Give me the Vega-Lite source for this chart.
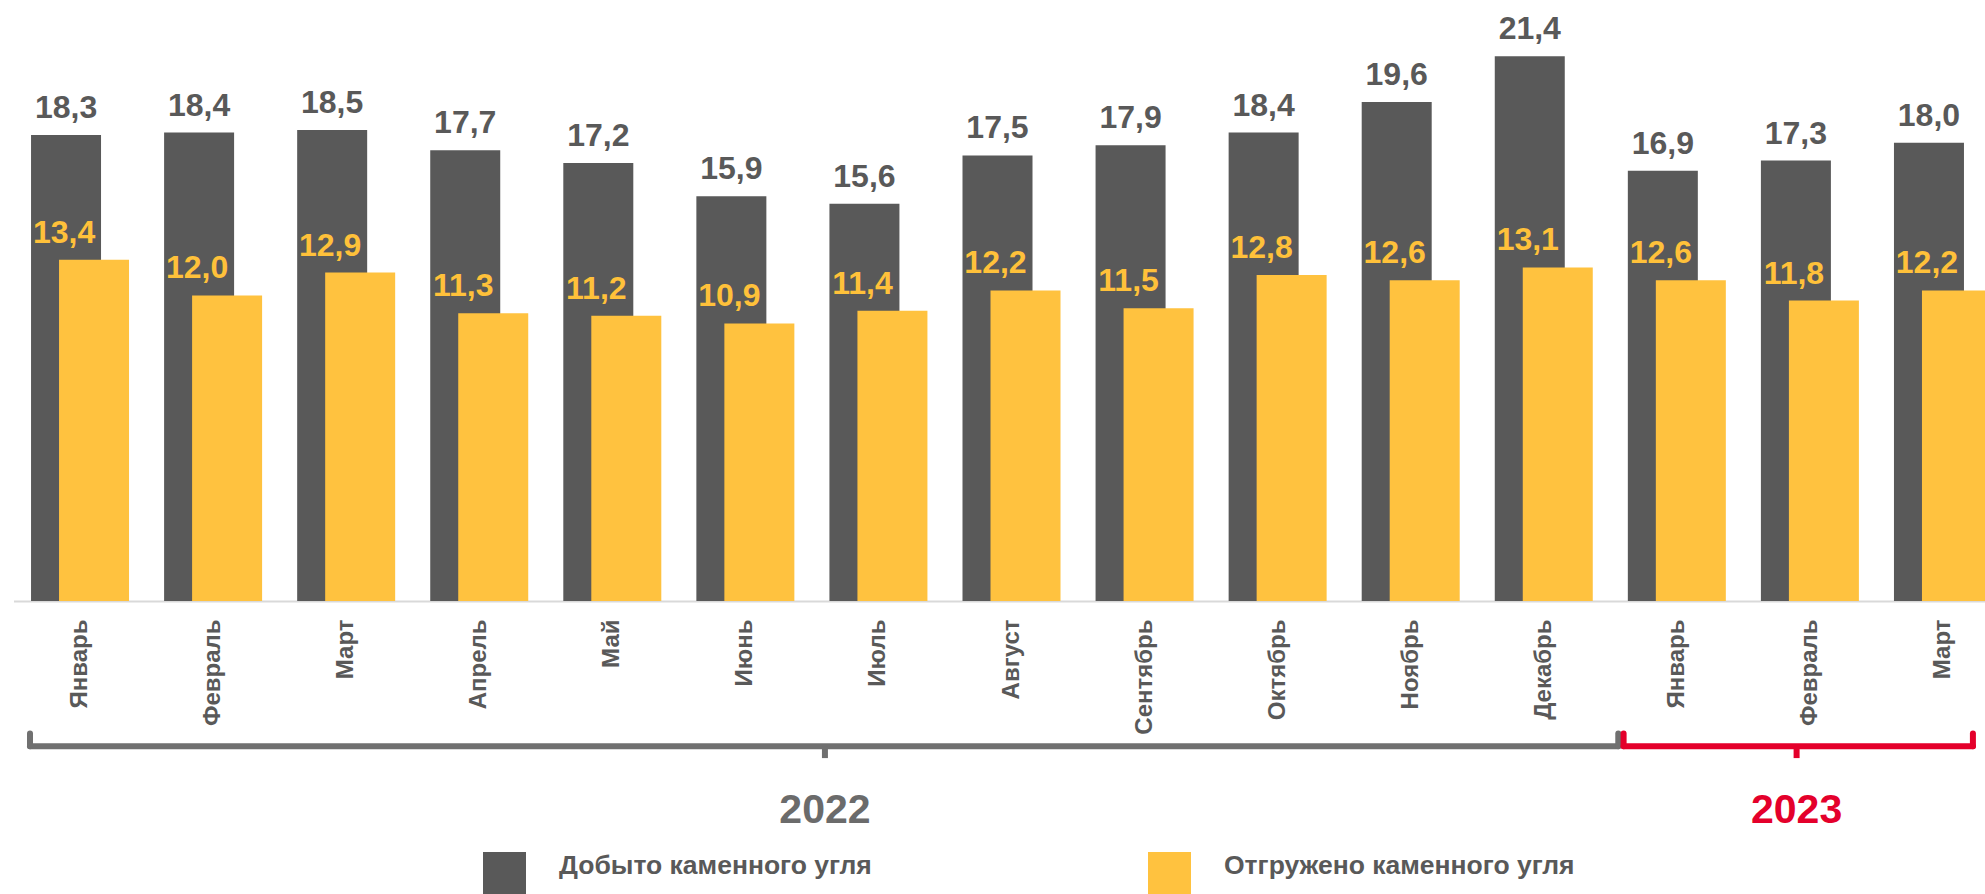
{
  "$schema": "https://vega.github.io/schema/vega-lite/v6.json",
  "width": 1971.5,
  "height": 587,
  "autosize": {"type": "none"},
  "padding": {"left": 13.5, "top": 14, "right": 0, "bottom": 293},
  "background": "white",
  "config": {
    "locale": {"number": {"decimal": ",", "thousands": " ", "grouping": [3], "currency": ["", ""]}},
    "view": {"stroke": null},
    "font": "Liberation Sans"
  },
  "datasets": {
    "coal": [
      {"month": "Январь 2022", "series": "Добыто каменного угля", "value": 18.3},
      {"month": "Февраль 2022", "series": "Добыто каменного угля", "value": 18.4},
      {"month": "Март 2022", "series": "Добыто каменного угля", "value": 18.5},
      {"month": "Апрель 2022", "series": "Добыто каменного угля", "value": 17.7},
      {"month": "Май 2022", "series": "Добыто каменного угля", "value": 17.2},
      {"month": "Июнь 2022", "series": "Добыто каменного угля", "value": 15.9},
      {"month": "Июль 2022", "series": "Добыто каменного угля", "value": 15.6},
      {"month": "Август 2022", "series": "Добыто каменного угля", "value": 17.5},
      {"month": "Сентябрь 2022", "series": "Добыто каменного угля", "value": 17.9},
      {"month": "Октябрь 2022", "series": "Добыто каменного угля", "value": 18.4},
      {"month": "Ноябрь 2022", "series": "Добыто каменного угля", "value": 19.6},
      {"month": "Декабрь 2022", "series": "Добыто каменного угля", "value": 21.4},
      {"month": "Январь 2023", "series": "Добыто каменного угля", "value": 16.9},
      {"month": "Февраль 2023", "series": "Добыто каменного угля", "value": 17.3},
      {"month": "Март 2023", "series": "Добыто каменного угля", "value": 18.0},
      {"month": "Январь 2022", "series": "Отгружено каменного угля", "value": 13.4},
      {"month": "Февраль 2022", "series": "Отгружено каменного угля", "value": 12.0},
      {"month": "Март 2022", "series": "Отгружено каменного угля", "value": 12.9},
      {"month": "Апрель 2022", "series": "Отгружено каменного угля", "value": 11.3},
      {"month": "Май 2022", "series": "Отгружено каменного угля", "value": 11.2},
      {"month": "Июнь 2022", "series": "Отгружено каменного угля", "value": 10.9},
      {"month": "Июль 2022", "series": "Отгружено каменного угля", "value": 11.4},
      {"month": "Август 2022", "series": "Отгружено каменного угля", "value": 12.2},
      {"month": "Сентябрь 2022", "series": "Отгружено каменного угля", "value": 11.5},
      {"month": "Октябрь 2022", "series": "Отгружено каменного угля", "value": 12.8},
      {"month": "Ноябрь 2022", "series": "Отгружено каменного угля", "value": 12.6},
      {"month": "Декабрь 2022", "series": "Отгружено каменного угля", "value": 13.1},
      {"month": "Январь 2023", "series": "Отгружено каменного угля", "value": 12.6},
      {"month": "Февраль 2023", "series": "Отгружено каменного угля", "value": 11.8},
      {"month": "Март 2023", "series": "Отгружено каменного угля", "value": 12.2}
    ],
    "brackets": [
      {"year": "2022", "from": "Январь 2022", "mid": "Июль 2022", "to": "Декабрь 2022"},
      {"year": "2023", "from": "Январь 2023", "mid": "Февраль 2023", "to": "Март 2023"}
    ]
  },
  "data": {"name": "coal"},
  "layer": [
    {
      "transform": [{"filter": "datum.series === 'Добыто каменного угля'"}],
      "mark": {"type": "bar", "width": 70, "xOffset": -14},
      "encoding": {
        "x": {
          "field": "month", "type": "nominal", "title": null,
          "scale": {
            "domain": ["Январь 2022", "Февраль 2022", "Март 2022", "Апрель 2022", "Май 2022", "Июнь 2022", "Июль 2022", "Август 2022", "Сентябрь 2022", "Октябрь 2022", "Ноябрь 2022", "Декабрь 2022", "Январь 2023", "Февраль 2023", "Март 2023"],
            "range": [0, 1996], "paddingInner": 0, "paddingOuter": 0
          },
          "axis": {
            "labelExpr": "split(datum.label, ' ')[0]",
            "labelAngle": -90, "labelFont": "Liberation Sans", "labelFontSize": 24, "labelFontWeight": "bold",
            "labelColor": "#595959", "labelPadding": 18, "ticks": false,
            "domainColor": "#D9D9D9", "domainWidth": 2, "grid": false
          }
        },
        "y": {"field": "value", "type": "quantitative", "scale": {"domain": [0, 23.055], "nice": false}, "axis": null},
        "color": {
          "field": "series", "type": "nominal",
          "scale": {"domain": ["Добыто каменного угля", "Отгружено каменного угля"], "range": ["#595959", "#FFC23F"]},
          "legend": {
            "orient": "none", "legendX": 469.5, "legendY": 838, "direction": "horizontal", "title": null,
            "symbolType": "square", "symbolSize": 1849, "symbolStrokeWidth": 0,
            "labelFont": "Liberation Sans", "labelFontSize": 26.5, "labelFontWeight": "bold", "labelColor": "#595959",
            "labelOffset": 33, "columnPadding": 276, "labelBaseline": "alphabetic", "padding": 0, "labelLimit": 0
          }
        }
      }
    },
    {
      "transform": [{"filter": "datum.series === 'Отгружено каменного угля'"}],
      "mark": {"type": "bar", "width": 70, "xOffset": 14},
      "encoding": {
        "x": {"field": "month", "type": "nominal", "title": null},
        "y": {"field": "value", "type": "quantitative"},
        "color": {"field": "series", "type": "nominal"}
      }
    },
    {
      "transform": [{"filter": "datum.series === 'Добыто каменного угля'"}],
      "mark": {"type": "text", "xOffset": -14, "dy": -17, "baseline": "alphabetic", "align": "center", "fontSize": 32, "fontWeight": "bold", "font": "Liberation Sans", "color": "#595959"},
      "encoding": {
        "x": {"field": "month", "type": "nominal", "title": null},
        "y": {"field": "value", "type": "quantitative"},
        "text": {"field": "value", "type": "quantitative", "format": ".1f"}
      }
    },
    {
      "transform": [{"filter": "datum.series === 'Отгружено каменного угля'"}],
      "mark": {"type": "text", "xOffset": -16, "dy": -17, "baseline": "alphabetic", "align": "center", "fontSize": 32, "fontWeight": "bold", "font": "Liberation Sans", "color": "#FFC13A"},
      "encoding": {
        "x": {"field": "month", "type": "nominal", "title": null},
        "y": {"field": "value", "type": "quantitative"},
        "text": {"field": "value", "type": "quantitative", "format": ".1f"}
      }
    },
    {
      "data": {"name": "brackets"},
      "transform": [{"filter": "datum.year === '2022'"}],
      "mark": {"type": "rule", "color": "#707070", "strokeWidth": 6, "strokeCap": "round"},
      "encoding": {
        "x": {"field": "from", "type": "nominal", "bandPosition": 0.124, "title": null},
        "x2": {"field": "to", "bandPosition": 1.06},
        "y": {"datum": -5.7, "type": "quantitative"}
      }
    },
    {
      "data": {"name": "brackets"},
      "transform": [{"filter": "datum.year === '2022'"}],
      "mark": {"type": "rule", "color": "#707070", "strokeWidth": 6, "strokeCap": "round"},
      "encoding": {
        "x": {"field": "from", "type": "nominal", "bandPosition": 0.124, "title": null},
        "y": {"datum": -5.7, "type": "quantitative"},
        "y2": {"datum": -5.2}
      }
    },
    {
      "data": {"name": "brackets"},
      "transform": [{"filter": "datum.year === '2022'"}],
      "mark": {"type": "rule", "color": "#707070", "strokeWidth": 6, "strokeCap": "round"},
      "encoding": {
        "x": {"field": "to", "type": "nominal", "bandPosition": 1.06, "title": null},
        "y": {"datum": -5.7, "type": "quantitative"},
        "y2": {"datum": -5.2}
      }
    },
    {
      "data": {"name": "brackets"},
      "transform": [{"filter": "datum.year === '2022'"}],
      "mark": {"type": "rule", "color": "#707070", "strokeWidth": 6, "strokeCap": "butt"},
      "encoding": {
        "x": {"field": "mid", "type": "nominal", "bandPosition": 0.098, "title": null},
        "y": {"datum": -5.7, "type": "quantitative"},
        "y2": {"datum": -6.17}
      }
    },
    {
      "data": {"name": "brackets"},
      "transform": [{"filter": "datum.year === '2022'"}],
      "mark": {"type": "text", "color": "#6B6B6B", "fontSize": 41, "fontWeight": "bold", "font": "Liberation Sans", "baseline": "alphabetic", "align": "center"},
      "encoding": {
        "x": {"field": "mid", "type": "nominal", "bandPosition": 0.098, "title": null},
        "y": {"datum": -8.72, "type": "quantitative"},
        "text": {"field": "year", "type": "nominal"}
      }
    },
    {
      "data": {"name": "brackets"},
      "transform": [{"filter": "datum.year === '2023'"}],
      "mark": {"type": "rule", "color": "#E4002B", "strokeWidth": 6, "strokeCap": "round"},
      "encoding": {
        "x": {"field": "from", "type": "nominal", "bandPosition": 0.1, "title": null},
        "x2": {"field": "to", "bandPosition": 0.725},
        "y": {"datum": -5.7, "type": "quantitative"}
      }
    },
    {
      "data": {"name": "brackets"},
      "transform": [{"filter": "datum.year === '2023'"}],
      "mark": {"type": "rule", "color": "#E4002B", "strokeWidth": 6, "strokeCap": "round"},
      "encoding": {
        "x": {"field": "from", "type": "nominal", "bandPosition": 0.1, "title": null},
        "y": {"datum": -5.7, "type": "quantitative"},
        "y2": {"datum": -5.2}
      }
    },
    {
      "data": {"name": "brackets"},
      "transform": [{"filter": "datum.year === '2023'"}],
      "mark": {"type": "rule", "color": "#E4002B", "strokeWidth": 6, "strokeCap": "round"},
      "encoding": {
        "x": {"field": "to", "type": "nominal", "bandPosition": 0.725, "title": null},
        "y": {"datum": -5.7, "type": "quantitative"},
        "y2": {"datum": -5.2}
      }
    },
    {
      "data": {"name": "brackets"},
      "transform": [{"filter": "datum.year === '2023'"}],
      "mark": {"type": "rule", "color": "#E4002B", "strokeWidth": 6, "strokeCap": "butt"},
      "encoding": {
        "x": {"field": "mid", "type": "nominal", "bandPosition": 0.4, "title": null},
        "y": {"datum": -5.7, "type": "quantitative"},
        "y2": {"datum": -6.17}
      }
    },
    {
      "data": {"name": "brackets"},
      "transform": [{"filter": "datum.year === '2023'"}],
      "mark": {"type": "text", "color": "#E4002B", "fontSize": 41, "fontWeight": "bold", "font": "Liberation Sans", "baseline": "alphabetic", "align": "center"},
      "encoding": {
        "x": {"field": "mid", "type": "nominal", "bandPosition": 0.4, "title": null},
        "y": {"datum": -8.72, "type": "quantitative"},
        "text": {"field": "year", "type": "nominal"}
      }
    }
  ]
}
